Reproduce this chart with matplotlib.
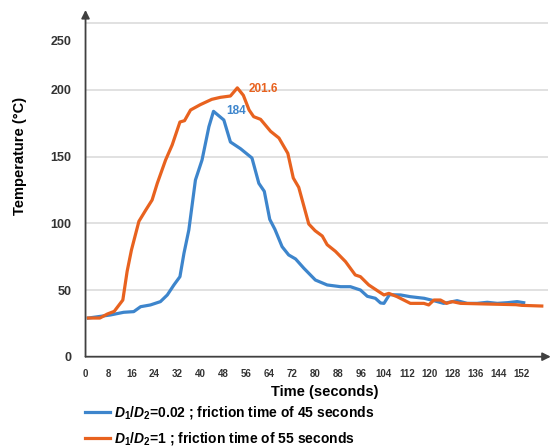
import matplotlib.pyplot as plt
import matplotlib.transforms as mtransforms

plt.rcParams['font.family'] = ['Liberation Sans', 'DejaVu Sans']
plt.rcParams['mathtext.fontset'] = 'custom'
plt.rcParams['mathtext.it'] = 'Liberation Sans:italic:bold'
plt.rcParams['mathtext.rm'] = 'Liberation Sans:bold'

# D1/D2 = 0.02, friction time 45 s
t_blue = [1, 8.7, 13.3, 16.8, 19.2, 22.6, 26.1, 28.5, 30.8, 32.9, 34.3, 36, 38.3, 40.6,
          43, 44.6, 48.2, 50.5, 54, 58, 60.4, 62.3, 64.2, 66, 68.5, 70.8, 73.2, 76.1,
          80.1, 84.2, 88.9, 92.3, 95.8, 98.2, 101, 102.8, 104, 105.9, 109.8, 113.2, 118,
          121.4, 124.8, 129.5, 133, 136.5, 140, 143.5, 147, 150.4, 152.7]
temp_blue = [29, 31.3, 33.3, 33.8, 37.5, 38.8, 41.3, 46.3, 53.8, 60, 77.5, 95, 132.5, 147.5,
             172.5, 184, 177.5, 161, 156, 149, 130, 124, 103, 95.5, 82.5, 76.3, 73.3, 66.3,
             57.5, 53.8, 52.5, 52.5, 50, 45.3, 43.8, 40.3, 40, 46.5, 46.3, 45, 43.8,
             42, 40, 42, 40, 40, 40.8, 40, 40.5, 41.3, 40.5]

# D1/D2 = 1, friction time 55 s
t_orange = [1, 5, 7.6, 10, 13, 14.5, 16, 18.6, 21, 23.2, 25, 27.9, 30.2, 32.9, 34.5, 36.6,
            40, 44, 47, 50.5, 52.9, 55, 57, 58.6, 61, 64.5, 67.4, 70.5, 72.4, 74.3, 77.8,
            80, 82.5, 84.2, 87.1, 90.6, 94, 95.8, 98.7, 102.2, 104, 105.7, 108.6, 113.2,
            117.9, 119.6, 121.4, 123.7, 125.8, 127.8, 130.7, 140, 150, 152, 159]
temp_orange = [29, 29, 32, 34, 42.5, 64, 80, 101.5, 110, 117.5, 130, 147.5, 158.8, 176, 177, 185,
               189, 193, 194.5, 195.5, 201.6, 196, 185, 180, 178, 169, 164, 152.5, 134, 127, 99.5,
               94.5, 90.5, 84, 79, 71.3, 61.3, 60, 53.8, 48.8, 46.3, 47.5, 45, 40,
               40, 38.8, 42.5, 42.5, 40, 41.3, 40, 39.5, 39, 38.5, 38]

x_ticks = list(range(0, 153, 8))
y_ticks = [0, 50, 100, 150, 200, 250]

blue = '#3d85cc'
orange = '#e8621f'
axis_col = '#404040'

fig = plt.figure(figsize=(5.5, 4.48), dpi=100)
ax = fig.add_axes([0.1555, 0.2038, 0.84, 0.7739])

ax.plot(t_blue, temp_blue, color=blue, lw=2.3, solid_joinstyle='round',
        label=r'$D_1/D_2$=0.02 ; friction time of 45 seconds')
ax.plot(t_orange, temp_orange, color=orange, lw=2.3, solid_joinstyle='round',
        label=r'$D_1/D_2$=1 ; friction time of 55 seconds')

ax.text(49.1, 184, '184', color=blue, fontsize=8.5, fontweight='bold', ha='left', va='center')
ax.text(56.8, 200.5, '201.6', color=orange, fontsize=8.5, fontweight='bold', ha='left', va='center')

ax.set_xlim(0, 161)
ax.set_ylim(0, 260)
ax.set_xticks(x_ticks)
ax.set_yticks(y_ticks)
ax.tick_params(axis='x', length=0, pad=9, labelsize=7, labelcolor='#333333')
ax.tick_params(axis='y', length=0, pad=10, labelsize=9, labelcolor='#333333')
for lab in ax.get_xticklabels() + ax.get_yticklabels():
    lab.set_fontweight('bold')

# the 250 label sits below its gridline in the original
lab250 = ax.get_yticklabels()[-1]
lab250.set_transform(lab250.get_transform() + mtransforms.ScaledTranslation(0, -17 / 100, fig.dpi_scale_trans))

ax.yaxis.grid(True, color='#d9d9d9', lw=1.1)
ax.set_axisbelow(True)
for s in ax.spines.values():
    s.set_visible(False)

# axis arrows
ax.annotate('', xy=(0, 1.0), xytext=(0, 0), xycoords='axes fraction',
            arrowprops=dict(arrowstyle='-|>', color=axis_col, lw=1.3, mutation_scale=12,
                            shrinkA=0, shrinkB=0), annotation_clip=False)
ax.annotate('', xy=(1.007, 0), xytext=(0, 0), xycoords='axes fraction',
            arrowprops=dict(arrowstyle='-|>', color=axis_col, lw=1.3, mutation_scale=12,
                            shrinkA=0, shrinkB=0), annotation_clip=False)

fig.text(325 / 550, 1 - 391.5 / 448, 'Time (seconds)', fontsize=10.5, fontweight='bold',
         ha='center', va='center')
fig.text(20 / 550, 1 - 156 / 448, 'Temperature (°C)', fontsize=10.5, fontweight='bold',
         ha='center', va='center', rotation=90)

fig.legend(loc='upper left', bbox_to_anchor=(0.154, 0.098), frameon=False,
           prop={'size': 10, 'weight': 'bold'}, handlelength=1.8, handletextpad=0.3,
           labelspacing=0.65, borderpad=0, borderaxespad=0)

fig.savefig('out.png', dpi=100, facecolor='white')
